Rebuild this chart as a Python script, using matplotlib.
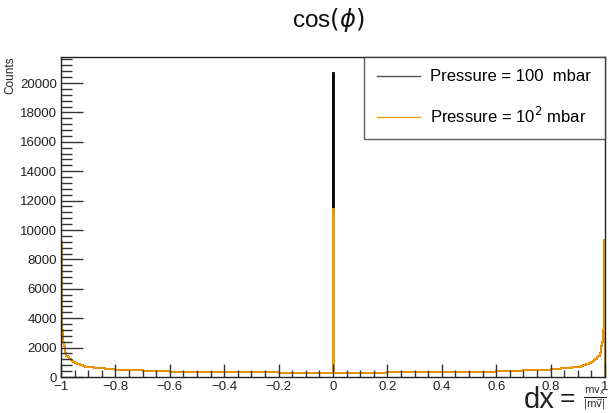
import numpy as np
import matplotlib
matplotlib.use("Agg")
import matplotlib.pyplot as plt
from matplotlib.ticker import MultipleLocator

# Bin edges (variable width; fine near the edges and at 0)
edges = [-1.0, -0.998, -0.996, -0.994, -0.992, -0.99, -0.987, -0.984, -0.98, -0.975,
         -0.97, -0.965, -0.96, -0.955, -0.95, -0.94, -0.93, -0.92, -0.91, -0.9,
         -0.88, -0.86, -0.84, -0.82, -0.8, -0.75, -0.7, -0.65, -0.6, -0.5, -0.4,
         -0.3, -0.2, -0.1, -0.002,
         0.0, 0.002, 0.1, 0.2, 0.3, 0.4, 0.5, 0.6, 0.65, 0.7, 0.75, 0.8,
         0.82, 0.84, 0.86, 0.88, 0.9, 0.91, 0.92, 0.93, 0.94, 0.95, 0.955, 0.96,
         0.965, 0.97, 0.975, 0.98, 0.984, 0.987, 0.99, 0.992, 0.994, 0.996, 0.998, 1.0]

# Counts per bin
counts_100 = [9200, 4080, 3200, 2750, 2400, 2100, 1850, 1640, 1460, 1330,
              1220, 1130, 1060, 1000, 930, 860, 800, 750, 710, 670,
              630, 590, 555, 525, 490, 455, 425, 395, 370, 345,
              325, 310, 300, 295, 295,
              20700,
              295, 300, 310, 325, 345, 370, 395, 425, 455, 490,
              525, 555, 590, 630, 670, 710, 750, 800, 860, 930,
              1000, 1060, 1130, 1220, 1330, 1460, 1640, 1850, 2100, 2400,
              2750, 3200, 4080, 9300]
counts_1e2 = [9200, 4080, 3200, 2750, 2400, 2100, 1850, 1640, 1460, 1330,
              1220, 1130, 1060, 1000, 930, 860, 800, 750, 710, 670,
              630, 590, 555, 525, 490, 455, 425, 395, 370, 345,
              325, 310, 300, 295, 295,
              11430,
              295, 300, 310, 325, 345, 370, 395, 425, 455, 490,
              525, 555, 590, 630, 670, 710, 750, 800, 860, 930,
              1000, 1060, 1130, 1220, 1330, 1460, 1640, 1850, 2100, 2400,
              2750, 3200, 4080, 9300]

labels = ["Pressure = 100  mbar", "Pressure = 10$^2$ mbar"]
colors = ["#000000", "#ffa000"]

plt.rcParams['font.family'] = ['Liberation Sans', 'DejaVu Sans']
plt.rcParams['mathtext.fontset'] = 'dejavusans'

W, H = 609, 413
fig = plt.figure(figsize=(W / 100, H / 100), dpi=100)
ax = fig.add_axes([61 / W, (H - 377) / H, 544 / W, 320 / H])

ax.stairs(counts_100, edges, color=colors[0], linewidth=1.3, label=labels[0])
ax.stairs(counts_1e2, edges, color=colors[1], linewidth=1.3, label=labels[1])

ax.set_xlim(-1, 1)
ax.set_ylim(0, 21770)

ax.xaxis.set_major_locator(MultipleLocator(0.2))
ax.xaxis.set_minor_locator(MultipleLocator(0.05))
ax.yaxis.set_major_locator(MultipleLocator(2000))
ax.yaxis.set_minor_locator(MultipleLocator(400))

def fmt(v, pos):
    if abs(v) < 1e-9:
        return "0"
    s = ("%g" % v)
    return s.replace("-", "\u2212")

ax.xaxis.set_major_formatter(plt.FuncFormatter(fmt))
ax.yaxis.set_major_formatter(plt.FuncFormatter(lambda v, p: "%d" % v))

ax.tick_params(axis='x', which='major', direction='in', length=9.6, width=1, labelsize=9.5, pad=3, color='#333333')
ax.tick_params(axis='x', which='minor', direction='in', length=4.8, width=1, color='#333333')
ax.tick_params(axis='y', which='major', direction='in', length=16, width=1, labelsize=9.5, pad=3, color='#333333')
ax.tick_params(axis='y', which='minor', direction='in', length=8, width=1, color='#333333')
ax.tick_params(top=False, right=False, which='both', labelcolor='#222222')

for s in ax.spines.values():
    s.set_linewidth(1)
    s.set_color('#222222')

# Y axis title
fig.text(4 / W, 1 - 56 / H, "Counts", rotation=90, ha='left', va='top', fontsize=8.5, color='#222222')

# Title
fig.text(328 / W, 1 - 20 / H, r"cos$(\phi)$", ha='center', va='center', fontsize=17.5, color='#111111')

# X axis title
fig.text(524 / W, 1 - 400 / H, "dx", ha='left', va='center', fontsize=21, color='#222222')
fig.text(560 / W, 1 - 399 / H, "=", ha='left', va='center', fontsize=19, color='#222222')
fig.text(583 / W, 1 - 399 / H, r"$\frac{\mathrm{mv_x}}{|\mathrm{m}\vec{\mathrm{v}}|}$", ha='left', va='center',
         fontsize=10, color='#222222')

# Legend
leg = fig.legend(handles=ax.get_legend_handles_labels()[0], labels=labels,
                 loc='upper left', bbox_to_anchor=(364 / W, 1 - 138 / H, 241 / W, 81 / H),
                 mode='expand', fontsize=12, frameon=True, fancybox=False,
                 borderaxespad=0, handlelength=2.6, handletextpad=0.6, labelspacing=1.3,
                 borderpad=0.75)
leg.get_frame().set_edgecolor('#333333')
leg.get_frame().set_linewidth(1)
legend_line_colors = ["#555555", "#ffa000"]
for h, c in zip(leg.get_lines(), legend_line_colors):
    h.set_linewidth(1)
    h.set_color(c)

fig.savefig("out.png", dpi=100)
